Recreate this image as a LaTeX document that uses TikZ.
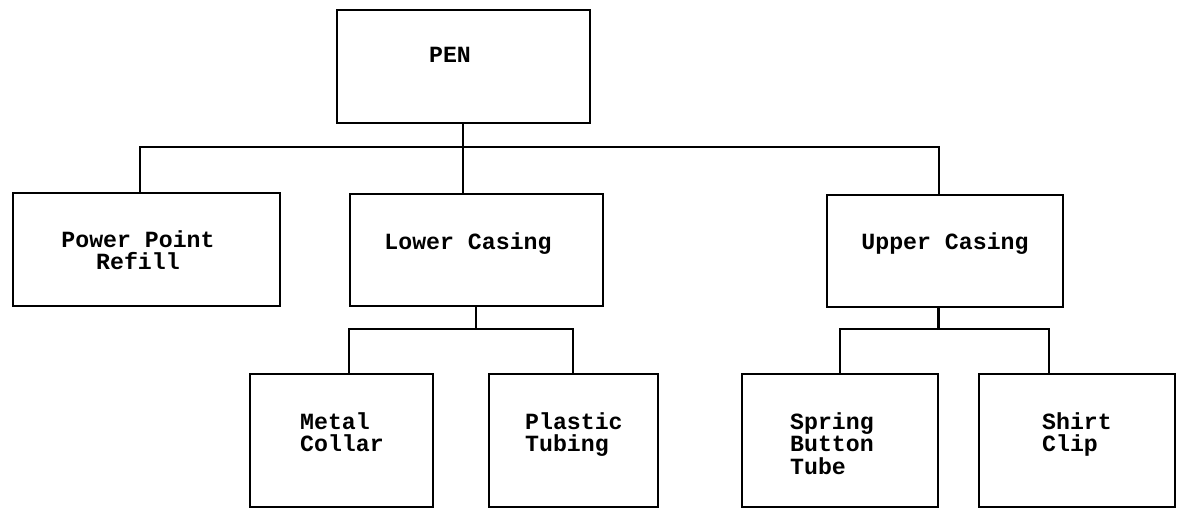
\documentclass[tikz,border=0pt]{standalone}
\usepackage{fontspec}
\setmonofont{Liberation Mono}
\begin{document}
\begin{tikzpicture}[x=1pt,y=-1pt,
  box/.style={draw,line width=2.2pt,rectangle,inner sep=0pt},
  lbl/.style={font=\ttfamily\bfseries\fontsize{23.2}{22.5}\selectfont,align=left,inner sep=0pt,anchor=north west},
  lblc/.style={font=\ttfamily\bfseries\fontsize{23.2}{22.5}\selectfont,align=center,inner sep=0pt,anchor=north},
  conn/.style={line width=2.2pt}]
\useasboundingbox (0,0) rectangle (1178,509);
% boxes
\node[box,minimum width=253pt,minimum height=113pt] (pen) at (463.5,66.5) {};
\node[box,minimum width=267pt,minimum height=113pt] (ppr) at (146.5,249.5) {};
\node[box,minimum width=253pt,minimum height=112pt] (lc) at (476.5,250) {};
\node[box,minimum width=236pt,minimum height=112pt] (uc) at (945,251) {};
\node[box,minimum width=183pt,minimum height=133pt] (mc) at (341.5,440.5) {};
\node[box,minimum width=169pt,minimum height=133pt] (pt) at (573.5,440.5) {};
\node[box,minimum width=196pt,minimum height=133pt] (sbt) at (840,440.5) {};
\node[box,minimum width=196pt,minimum height=133pt] (sc) at (1077,440.5) {};
% labels
\node[lblc] (tpen) at (450,47) {PEN};
\node[lblc] (tppr) at (138,230) {Power Point\\Refill};
\node[lblc] (tlc) at (468,232) {Lower Casing};
\node[lblc] (tuc) at (945,232) {Upper Casing};
\node[lbl] (tmc) at (300,412) {Metal\\Collar};
\node[lbl] (tpt) at (525,412) {Plastic\\Tubing};
\node[lbl] (tsbt) at (790,412) {Spring\\Button\\Tube};
\node[lbl] (tsc) at (1042,412) {Shirt\\Clip};
% connectors
\coordinate (b1) at (463,147);
\coordinate (b2) at (476,329);
\coordinate (b3) at (938.5,329);
\draw[conn] (pen.south -| b1) -- (b1);
\draw[conn] (ppr.north -| 140,0) |- (b1) -| (uc.north -| 939,0);
\draw[conn] (b1) -- (lc.north -| b1);
\draw[conn] (lc.south -| b2) -- (b2);
\draw[conn] (mc.north -| 349,0) |- (b2) -| (pt.north -| 573,0);
\draw[conn] (uc.south -| b3) -- (b3);
\draw[conn] (sbt.north -| 840,0) |- (b3) -| (sc.north -| 1049,0);
\end{tikzpicture}
\end{document}
